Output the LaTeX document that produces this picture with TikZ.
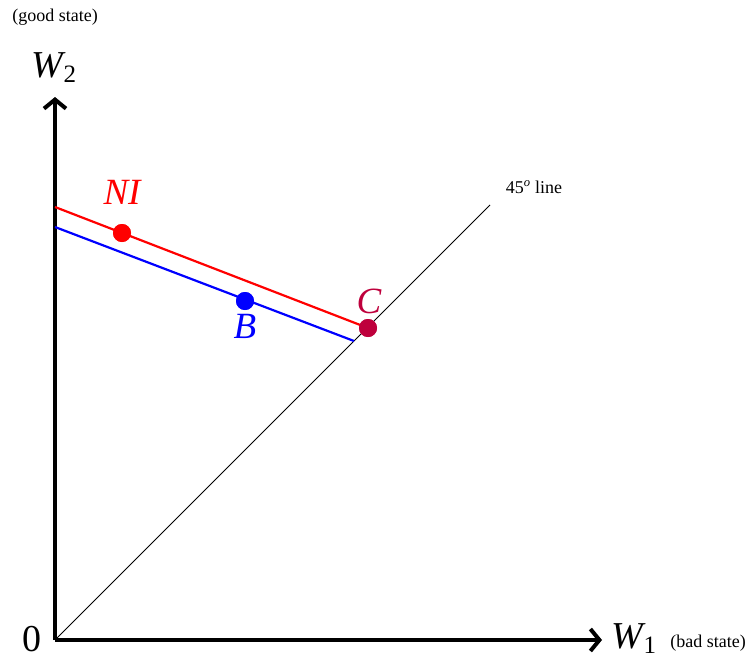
\documentclass[tikz,border=0pt]{standalone}
\usepackage{fontspec}
\setmainfont{Liberation Serif}
\usetikzlibrary{arrows.meta}
\definecolor{cred}{RGB}{255,0,0}
\definecolor{cblue}{RGB}{0,0,255}
\definecolor{ccrim}{RGB}{190,0,60}
\tikzset{
  axis/.style={line width=4pt,-{Straight Barb[length=9pt,width=22pt,line width=4pt]}},
  budget/.style={line width=2.2pt},
  dot/.style={circle,fill,inner sep=0pt,minimum size=18pt},
  big/.style={font=\fontsize{37}{39}\selectfont\itshape},
  axlab/.style={font=\fontsize{38}{40}\selectfont},
  small/.style={font=\fontsize{18}{20}\selectfont}
}
\newcommand{\subdig}[1]{\raisebox{-5pt}{\fontsize{25}{27}\selectfont #1}}
\begin{document}
\begin{tikzpicture}[x=1pt,y=-1pt]
\useasboundingbox (0,0) rectangle (750,656);
\coordinate (O) at (55,640);
\coordinate (Ytip) at (55,97);
\coordinate (Xtip) at (602,640);
\coordinate (D) at (490,205);
\coordinate (R0) at (55,207);
\coordinate (B0) at (55,227);
\coordinate (B1) at (354,341);
\draw[line width=0.9pt] (O) -- (D);
\draw[axis] (O) -- (Ytip);
\draw[axis] (O) -- (Xtip);
\node[dot,cblue] (Bd) at (245,301) {};
\node[dot,cred] (NId) at (122,233) {};
\draw[budget,cblue] (B0) -- (B1);
\node[dot,ccrim] (Cd) at (368,328) {};
\draw[budget,cred] (R0) -- (Cd.center);
\node[dot,cred] at (NId) {};
\node[dot,cblue] at (Bd) {};
\node[dot,ccrim] at (Cd) {};
\node[big,text=cred] (NIl) at (122,192) {NI};
\node[big,text=cblue] (Bl) at (245,326) {B};
\node[big,text=ccrim] (Cl) at (369,301) {C};
\node[axlab,anchor=base west,inner sep=0pt] (W2) at (31,77) {\textit{W}\kern-2pt\subdig{2}};
\node[small] (gs) at (55,17) {(good state)};
\node[axlab,anchor=base west,inner sep=0pt] (W1) at (611,648) {\textit{W}\kern-2pt\subdig{1}};
\node[small] (bs) at (708,643) {(bad state)};
\node[axlab,anchor=base,inner sep=0pt] (zero) at (32,651) {0};
\node[small] (fl) at (534,187) {45\textsuperscript{\itshape o} line};
\end{tikzpicture}
\end{document}
